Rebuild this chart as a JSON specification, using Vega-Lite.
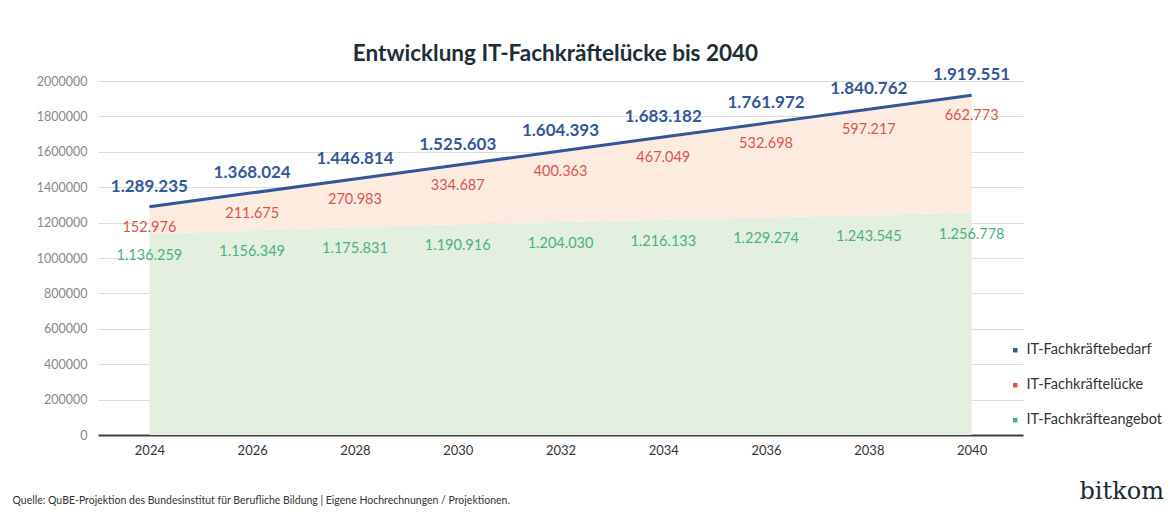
{
  "$schema": "https://vega.github.io/schema/vega-lite/v6.json",
  "autosize": {"type": "none"},
  "width": 925,
  "height": 354,
  "padding": {"left": 98, "top": 81, "right": 149, "bottom": 83},
  "background": "#ffffff",
  "title": {
    "text": "Entwicklung IT-Fachkräftelücke bis 2040",
    "anchor": "middle",
    "font": "Lato",
    "fontSize": 22.5,
    "fontWeight": "bold",
    "color": "#1c2e36",
    "offset": 1,
    "dx": -5
  },
  "data": {
    "values": [
      {"year": "2024", "Bedarf": 1289235, "Luecke": 152976, "Angebot": 1136259},
      {"year": "2026", "Bedarf": 1368024, "Luecke": 211675, "Angebot": 1156349},
      {"year": "2028", "Bedarf": 1446814, "Luecke": 270983, "Angebot": 1175831},
      {"year": "2030", "Bedarf": 1525603, "Luecke": 334687, "Angebot": 1190916},
      {"year": "2032", "Bedarf": 1604393, "Luecke": 400363, "Angebot": 1204030},
      {"year": "2034", "Bedarf": 1683182, "Luecke": 467049, "Angebot": 1216133},
      {"year": "2036", "Bedarf": 1761972, "Luecke": 532698, "Angebot": 1229274},
      {"year": "2038", "Bedarf": 1840762, "Luecke": 597217, "Angebot": 1243545},
      {"year": "2040", "Bedarf": 1919551, "Luecke": 662773, "Angebot": 1256778}
    ]
  },
  "encoding": {
    "x": {
      "field": "year",
      "type": "ordinal",
      "scale": {"type": "point", "padding": 0.5},
      "axis": {
        "title": "Quelle: QuBE-Projektion des Bundesinstitut für Berufliche Bildung | Eigene Hochrechnungen / Projektionen.",
        "titleFont": "Lato",
        "titleFontSize": 10.5,
        "titleFontWeight": "normal",
        "titleColor": "#333333",
        "titleAnchor": null,
        "titleAlign": "left",
        "titleBaseline": "middle",
        "titleX": -86,
        "titleY": 65,
        "labelAngle": 0,
        "labelFont": "Lato",
        "labelFontSize": 13,
        "labelColor": "#333333",
        "labelPadding": 9,
        "ticks": false,
        "domainColor": "#404040",
        "domainWidth": 2,
        "grid": false
      }
    }
  },
  "layer": [
    {
      "transform": [{"fold": ["Angebot", "Luecke"], "as": ["key", "value"]}],
      "mark": {"type": "area", "opacity": 1},
      "encoding": {
        "y": {
          "field": "value",
          "type": "quantitative",
          "stack": "zero",
          "scale": {"domain": [0, 2000000], "nice": false},
          "axis": {
            "title": "bitkom",
            "values": [0, 200000, 400000, 600000, 800000, 1000000, 1200000, 1400000, 1600000, 1800000, 2000000],
            "tickCount": 12,
            "labelOverlap": false
          }
        },
        "fill": {
          "field": "key",
          "type": "nominal",
          "scale": {"domain": ["Angebot", "Luecke"], "range": ["#e3f0e0", "#fdebe0"]},
          "legend": null
        },
        "order": {"field": "key", "sort": "ascending"}
      }
    },
    {
      "mark": {"type": "line", "color": "#34549c", "strokeWidth": 3},
      "encoding": {
        "y": {"field": "Bedarf", "type": "quantitative",
          "axis": {"title": "bitkom", "values": [0, 200000, 400000, 600000, 800000, 1000000, 1200000, 1400000, 1600000, 1800000, 2000000], "tickCount": 12, "labelOverlap": false}}
      }
    },
    {
      "mark": {"type": "text", "font": "Lato", "fontSize": 17, "fontWeight": "bold", "dy": -20},
      "encoding": {
        "y": {"field": "Bedarf", "type": "quantitative",
          "axis": {"title": "bitkom", "values": [0, 200000, 400000, 600000, 800000, 1000000, 1200000, 1400000, 1600000, 1800000, 2000000], "tickCount": 12, "labelOverlap": false}},
        "text": {"field": "Bedarf", "type": "quantitative", "format": ",d"},
        "color": {"datum": "IT-Fachkräftebedarf"}
      }
    },
    {
      "mark": {"type": "text", "font": "Lato", "fontSize": 14.5, "dy": 21},
      "encoding": {
        "y": {"field": "Bedarf", "type": "quantitative",
          "axis": {"title": "bitkom", "values": [0, 200000, 400000, 600000, 800000, 1000000, 1200000, 1400000, 1600000, 1800000, 2000000], "tickCount": 12, "labelOverlap": false}},
        "text": {"field": "Luecke", "type": "quantitative", "format": ",d"},
        "color": {"datum": "IT-Fachkräftelücke"}
      }
    },
    {
      "mark": {"type": "text", "font": "Lato", "fontSize": 14.5, "dy": 22},
      "encoding": {
        "y": {"field": "Angebot", "type": "quantitative",
          "axis": {"title": "bitkom", "values": [0, 200000, 400000, 600000, 800000, 1000000, 1200000, 1400000, 1600000, 1800000, 2000000], "tickCount": 12, "labelOverlap": false}},
        "text": {"field": "Angebot", "type": "quantitative", "format": ",d"},
        "color": {
          "datum": "IT-Fachkräfteangebot",
          "scale": {
            "domain": ["IT-Fachkräftebedarf", "IT-Fachkräftelücke", "IT-Fachkräfteangebot"],
            "range": ["#34579a", "#d9574a", "#4caf7f"]
          },
          "legend": {
            "title": null,
            "orient": "none",
            "legendX": 910,
            "legendY": 262,
            "symbolType": "square",
            "symbolSize": 20,
            "labelFont": "Lato",
            "labelFontSize": 14.5,
            "labelColor": "#333333",
            "labelOffset": 4,
            "rowPadding": 20,
            "padding": 0
          }
        }
      }
    }
  ],
  "config": {
    "locale": {"number": {"decimal": ",", "thousands": ".", "grouping": [3], "currency": ["", " €"]}},
    "view": {"stroke": null},
    "axisY": {
      "titleFont": "DejaVu Serif",
      "titleFontSize": 24,
      "titleFontWeight": "normal",
      "titleColor": "#1a2a33",
      "titleAngle": 0,
      "titleAnchor": null,
      "titleAlign": "left",
      "titleBaseline": "middle",
      "titleX": 981,
      "titleY": 410,
      "format": "d",
      "labelOverlap": false,
      "labelFont": "Lato",
      "labelFontSize": 12.5,
      "labelColor": "#888888",
      "labelPadding": 11,
      "ticks": false,
      "domain": false,
      "gridColor": "#dcdcdc",
      "gridWidth": 1
    }
  }
}
